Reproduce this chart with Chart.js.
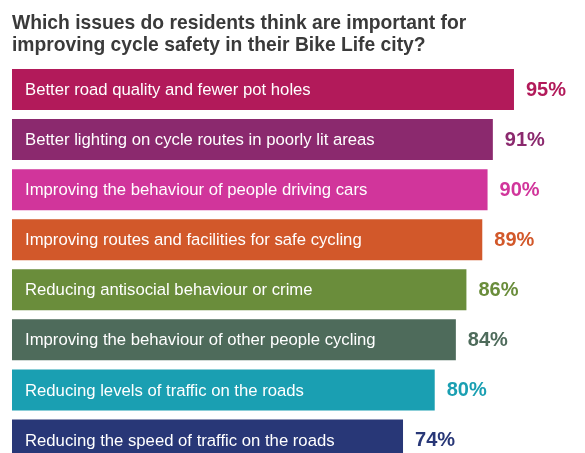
<!DOCTYPE html>
<html>
<head>
<meta charset="utf-8">
<script src="https://cdn.jsdelivr.net/npm/chart.js@4/dist/chart.umd.min.js"></script>
<style>
  html, body { margin: 0; padding: 0; background: #ffffff; overflow: hidden; }
  #wrap { width: 585px; height: 465px; }
</style>
</head>
<body>
<div id="wrap"><canvas id="c" width="585" height="465"></canvas></div>
<script>
const titleLines = [
  "Which issues do residents think are important for",
  "improving cycle safety in their Bike Life city?"
];
const categories = [
  "Better road quality and fewer pot holes",
  "Better lighting on cycle routes in poorly lit areas",
  "Improving the behaviour of people driving cars",
  "Improving routes and facilities for safe cycling",
  "Reducing antisocial behaviour or crime",
  "Improving the behaviour of other people cycling",
  "Reducing levels of traffic on the roads",
  "Reducing the speed of traffic on the roads"
];
const values = [95, 91, 90, 89, 86, 84, 80, 74];

const barColors = ["#b21a5a", "#8b296e", "#d1359b", "#d2582a", "#6a8d3b", "#4e6b5b", "#1a9fb2", "#283777"];
const FONT = "'Liberation Sans', Arial, Helvetica, sans-serif";

const labelPlugin = {
  id: "barLabels",
  afterDatasetsDraw(chart) {
    const ctx = chart.ctx;
    const xs = chart.scales.x;
    const ys = chart.scales.y;
    const meta = chart.getDatasetMeta(0);
    ctx.save();
    meta.data.forEach((bar, i) => {
      const y = ys.getPixelForValue(i);
      // inner label
      ctx.font = "16.7px " + FONT;
      ctx.fillStyle = "#ffffff";
      ctx.textAlign = "left";
      ctx.textBaseline = "middle";
      ctx.fillText(chart.data.labels[i], xs.getPixelForValue(0) + 13, y + 1);
      // value label
      ctx.font = "bold 20px " + FONT;
      ctx.fillStyle = barColors[i];
      ctx.fillText(values[i] + "%", xs.getPixelForValue(values[i]) + 12, y + 1);
    });
    ctx.restore();
  }
};

new Chart(document.getElementById("c"), {
  type: "bar",
  data: {
    labels: categories,
    datasets: [{
      data: values,
      backgroundColor: barColors,
      borderWidth: 0,
      barPercentage: 1.0,
      categoryPercentage: 0.82
    }]
  },
  options: {
    indexAxis: "y",
    responsive: false,
    animation: false,
    layout: { padding: { left: 12, right: 44.6, top: 0, bottom: 0 } },
    scales: {
      x: { display: false, min: 0, max: 100 },
      y: { display: false }
    },
    plugins: {
      legend: { display: false },
      tooltip: { enabled: false },
      title: {
        display: true,
        text: titleLines,
        align: "start",
        color: "#3a3a3a",
        font: { family: FONT, size: 19.3, weight: "bold", lineHeight: 1.14 },
        padding: { top: 12.5, bottom: 8 }
      }
    }
  },
  plugins: [labelPlugin]
});
</script>
</body>
</html>
